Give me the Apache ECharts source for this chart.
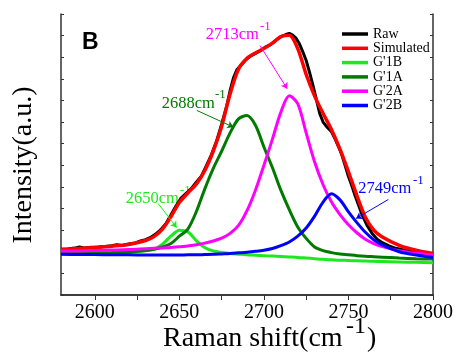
<!DOCTYPE html>
<html lang="en">
<head>
  <meta charset="UTF-8">
  <title>Raman G' band fit</title>
  <script src="https://cdn.jsdelivr.net/npm/echarts@6/dist/echarts.min.js"></script>
  <style>
    body { margin: 0; padding: 0; background: #fff; }
  </style>
</head>
<body>
  <div id="chart" style="width: 456px; height: 352px;"></div>
  <script>
    // shift axis (cm-1) used by the simulated curve and the four fitted peaks
    var shiftX = [2580, 2590, 2600, 2610, 2620, 2630, 2635, 2640, 2645, 2650, 2655, 2660, 2665, 2670, 2675,
      2680, 2685, 2690, 2695, 2700, 2705, 2710, 2715, 2720, 2725, 2730, 2735, 2740, 2745, 2750, 2755,
      2760, 2765, 2770, 2780, 2790, 2800];
    var simulated = [2.10, 2.15, 2.20, 2.26, 2.34, 2.52, 2.70, 3.05, 3.62, 4.28, 4.72, 5.13, 5.75, 6.65, 7.80,
      9.30, 10.45, 10.95, 11.20, 11.40, 11.65, 11.95, 12.02, 11.40, 10.20, 9.20, 8.40, 7.65, 6.75, 5.70, 4.60,
      3.60, 3.00, 2.68, 2.30, 2.07, 1.92];
    var g1B = [1.90, 1.91, 1.92, 1.94, 1.97, 2.05, 2.12, 2.35, 2.72, 3.00, 2.92, 2.52, 2.20, 2.04, 1.97,
      1.92, 1.89, 1.86, 1.84, 1.82, 1.80, 1.78, 1.76, 1.74, 1.71, 1.68, 1.65, 1.63, 1.61, 1.60, 1.58,
      1.57, 1.56, 1.55, 1.53, 1.51, 1.49];
    var g1A = [1.92, 1.93, 1.95, 1.97, 2.00, 2.06, 2.12, 2.22, 2.38, 2.72, 3.05, 3.85, 4.90, 5.85, 6.65,
      7.50, 8.15, 8.30, 7.85, 6.85, 5.90, 4.85, 3.95, 3.15, 2.62, 2.22, 2.05, 1.96, 1.90, 1.86, 1.82,
      1.79, 1.77, 1.75, 1.71, 1.68, 1.66];
    var g2A = [2.02, 2.04, 2.06, 2.08, 2.10, 2.14, 2.16, 2.18, 2.20, 2.23, 2.27, 2.32, 2.40, 2.50, 2.63,
      2.85, 3.22, 3.90, 4.85, 6.00, 7.20, 8.45, 9.22, 8.85, 7.50, 6.15, 5.10, 4.30, 3.72, 3.25, 2.88,
      2.58, 2.38, 2.24, 2.05, 1.93, 1.85];
    var g2B = [1.88, 1.87, 1.87, 1.86, 1.86, 1.85, 1.85, 1.85, 1.85, 1.85, 1.86, 1.86, 1.87, 1.88, 1.90,
      1.92, 1.95, 1.98, 2.02, 2.07, 2.15, 2.28, 2.45, 2.72, 3.10, 3.65, 4.30, 4.68, 4.40, 3.85, 3.35,
      2.90, 2.55, 2.32, 2.00, 1.85, 1.74];

    // raw spectrum, read a little finer
    var rawX = [2580, 2584, 2588, 2591, 2594, 2598, 2602, 2606, 2610, 2613,
      2616, 2620, 2624, 2627, 2630, 2633, 2636, 2639, 2642, 2645,
      2648, 2651, 2654, 2657, 2660, 2663, 2666, 2669, 2672, 2675,
      2678, 2680, 2682, 2684, 2686, 2689, 2692, 2695, 2698, 2701,
      2704, 2707, 2710, 2713, 2715, 2717, 2719, 2721, 2723, 2725,
      2727, 2729, 2731, 2733, 2735, 2737, 2740, 2742, 2744, 2746,
      2748, 2750, 2752, 2754, 2756, 2758, 2761, 2764, 2767, 2770,
      2774, 2778, 2782, 2786, 2790, 2795, 2800];
    var rawY = [2.12, 2.13, 2.17, 2.22, 2.17, 2.21, 2.22, 2.24, 2.28, 2.33,
      2.29, 2.36, 2.41, 2.50, 2.56, 2.66, 2.82, 3.02, 3.30, 3.70,
      4.12, 4.48, 4.70, 4.92, 5.22, 5.50, 5.98, 6.50, 7.12, 7.90,
      8.75, 9.45, 10.05, 10.42, 10.60, 10.85, 11.05, 11.18, 11.30, 11.48,
      11.58, 11.78, 11.95, 12.05, 12.10, 12.02, 11.88, 11.62, 11.25, 10.85,
      10.30, 9.70, 9.05, 8.40, 8.00, 7.80, 7.55, 7.24, 6.88, 6.50,
      6.00, 5.48, 5.05, 4.58, 4.15, 3.72, 3.22, 2.85, 2.58, 2.42,
      2.27, 2.16, 2.10, 2.05, 2.00, 1.95, 1.90];

    var seriesNames = ["Raw", "Simulated", "G'1B", "G'1A", "G'2A", "G'2B"];
    var seriesColors = ['#000000', '#ff0000', '#1ee81e', '#007a00', '#ff00ff', '#0000ff'];

    // peak annotations: label, arrow start / end in data units
    var peakLabels = ['2650', '2688', '2713', '2749'];
    var arrowFrom = [[2637.5, 4.23], [2660.3, 8.54], [2697.7, 11.54], [2773.6, 4.42]];
    var arrowTo = [[2648.4, 3.12], [2681.9, 7.77], [2713.8, 9.54], [2754.5, 3.54]];

    var xTicks = [2600, 2625, 2650, 2675, 2700, 2725, 2750, 2775, 2800];
    var xLabels = [2600, 2650, 2700, 2750, 2800];

    var serif = "'Liberation Serif', 'Times New Roman', serif";

    function pairs(xs, ys) {
      return xs.map(function (x, i) { return [x, ys[i]]; });
    }

    function arrow(i, color) {
      return {
        silent: true,
        symbol: ['none', 'arrow'],
        symbolSize: 6,
        label: { show: false },
        emphasis: { disabled: true },
        lineStyle: { color: color, width: 1, type: 'solid' },
        data: [[{ coord: arrowFrom[i] }, { coord: arrowTo[i] }]]
      };
    }

    function curve(name, color, data, width, smooth, mark) {
      var s = {
        name: name,
        type: 'line',
        data: data,
        symbol: 'none',
        showSymbol: false,
        smooth: smooth,
        lineStyle: { color: color, width: width },
        itemStyle: { color: color },
        emphasis: { disabled: true }
      };
      if (mark) s.markLine = mark;
      return s;
    }

    var axisLine = { show: true, lineStyle: { color: '#333', width: 1.5 } };

    var chart = echarts.init(document.getElementById('chart'));
    var option = {
      animation: false,
      grid: { left: 61, right: 23, top: 14, bottom: 57 },
      legend: {
        data: seriesNames,
        orient: 'vertical',
        left: 342,
        top: 27,
        padding: 0,
        icon: 'rect',
        itemWidth: 26,
        itemHeight: 3.5,
        itemGap: 0.3,
        textStyle: { fontFamily: serif, fontSize: 14, color: '#000' }
      },
      xAxis: [{
        type: 'value', min: 2580, max: 2800,
        axisLine: axisLine,
        axisTick: { show: true, inside: false, length: 5, customValues: xTicks, lineStyle: { color: '#333' } },
        axisLabel: {
          customValues: xLabels, fontFamily: serif, fontSize: 20, color: '#000', margin: 8,
          formatter: function (v) { return String(v); }
        },
        splitLine: { show: false }
      }, {
        type: 'value', min: 2580, max: 2800, position: 'top',
        axisLine: axisLine,
        axisTick: { show: true, inside: true, length: 3, customValues: xTicks, lineStyle: { color: '#333' } },
        axisLabel: { show: false },
        splitLine: { show: false }
      }],
      yAxis: [{
        type: 'value', min: 0, max: 13, interval: 1,
        axisLine: axisLine,
        axisTick: { show: true, inside: true, length: 3, lineStyle: { color: '#333' } },
        axisLabel: { show: false },
        splitLine: { show: false }
      }, {
        type: 'value', min: 0, max: 13, interval: 1, position: 'right',
        axisLine: axisLine,
        axisTick: { show: true, inside: true, length: 3, lineStyle: { color: '#333' } },
        axisLabel: { show: false },
        splitLine: { show: false }
      }],
      series: [
        curve(seriesNames[0], seriesColors[0], pairs(rawX, rawY), 3, false),
        curve(seriesNames[1], seriesColors[1], pairs(shiftX, simulated), 3.5, 0.3),
        curve(seriesNames[2], seriesColors[2], pairs(shiftX, g1B), 3, 0.3, arrow(0, seriesColors[2])),
        curve(seriesNames[3], seriesColors[3], pairs(shiftX, g1A), 3, 0.3, arrow(1, seriesColors[3])),
        curve(seriesNames[4], seriesColors[4], pairs(shiftX, g2A), 3, 0.3, arrow(2, seriesColors[4])),
        curve(seriesNames[5], seriesColors[5], pairs(shiftX, g2B), 3, 0.3, arrow(3, seriesColors[5]))
      ],
      graphic: []
    };

    // text annotations (label + superscript -1)
    var labelPos = [[125.7, 199], [161.7, 104], [205.7, 35], [358.3, 188.7]];
    var supPos = [[180, 191], [215, 94.5], [260, 26.5], [413, 181]];
    var labelColors = [seriesColors[2], seriesColors[3], seriesColors[4], seriesColors[5]];
    peakLabels.forEach(function (t, i) {
      option.graphic.push({
        type: 'text', x: labelPos[i][0], y: labelPos[i][1], silent: true,
        style: { text: t + 'cm', font: '16.5px ' + serif, fill: labelColors[i], verticalAlign: 'middle' }
      });
      option.graphic.push({
        type: 'text', x: supPos[i][0], y: supPos[i][1], silent: true,
        style: { text: '-1', font: '13px ' + serif, fill: labelColors[i], verticalAlign: 'middle' }
      });
    });

    option.graphic.push(
      { type: 'text', x: 82, y: 43, silent: true,
        style: { text: 'B', font: 'bold 23px "Liberation Sans", Arial, sans-serif', fill: '#000', verticalAlign: 'middle' } },
      { type: 'text', x: 163, y: 338.5, silent: true,
        style: { text: 'Raman shift(cm', font: '28px ' + serif, fill: '#000', verticalAlign: 'middle' } },
      { type: 'text', x: 346, y: 327, silent: true,
        style: { text: '-1', font: '24px ' + serif, fill: '#000', verticalAlign: 'middle' } },
      { type: 'text', x: 367, y: 338.5, silent: true,
        style: { text: ')', font: '28px ' + serif, fill: '#000', verticalAlign: 'middle' } },
      { type: 'text', x: 24, y: 165, rotation: Math.PI / 2, silent: true,
        style: { text: 'Intensity(a.u.)', font: '28px ' + serif, fill: '#000', align: 'center', verticalAlign: 'middle' } }
    );

    chart.setOption(option);
  </script>
</body>
</html>
